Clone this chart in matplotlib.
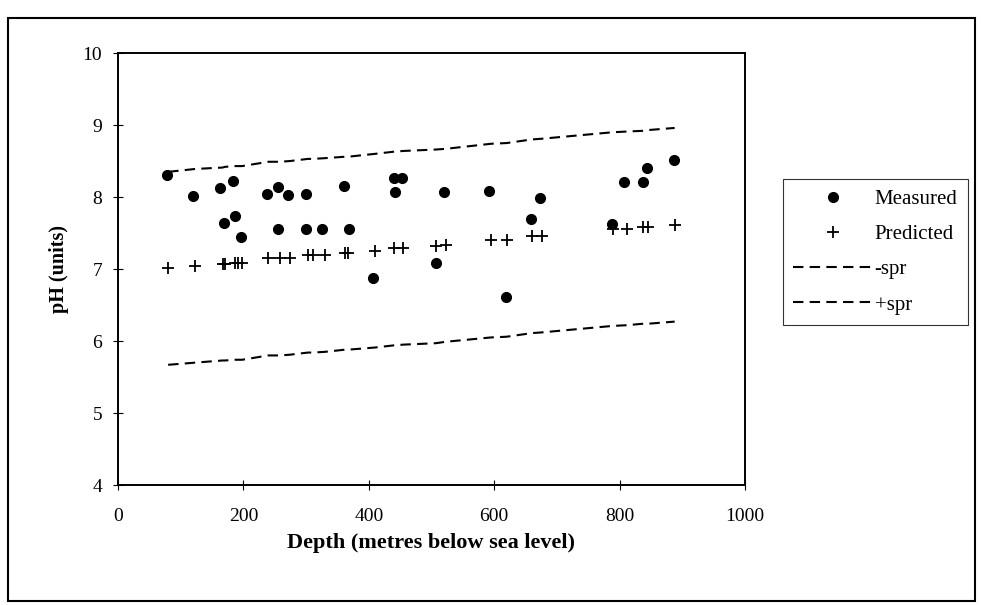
import matplotlib
matplotlib.use("Agg")
import matplotlib.pyplot as plt
from matplotlib.patches import Rectangle

measured_depth = [78, 120, 163, 169, 183, 186, 196, 238, 255, 255, 271, 300, 300,
                  325, 360, 368, 407, 440, 442, 453, 507, 520, 592, 619, 659, 673,
                  788, 807, 837, 844, 887]
measured_ph = [8.31, 8.01, 8.13, 7.64, 8.22, 7.74, 7.44, 8.04, 8.14, 7.56, 8.03, 8.04, 7.56,
               7.56, 8.15, 7.56, 6.87, 8.26, 8.07, 8.26, 7.08, 8.07, 8.08, 6.61, 7.69, 7.99,
               7.63, 8.21, 8.21, 8.40, 8.51]

# Predicted pH and spread lines
pred_depth = [80, 123, 167, 171, 187, 191, 198, 240, 258, 274, 303, 311, 330, 362, 367,
              410, 440, 455, 507, 523, 595, 620, 660, 676, 789, 812, 837, 845, 888]
pred_ph = [7.01, 7.04, 7.07, 7.07, 7.08, 7.08, 7.08, 7.15, 7.15, 7.15, 7.19, 7.19, 7.19,
           7.22, 7.22, 7.25, 7.29, 7.29, 7.32, 7.33, 7.40, 7.40, 7.46, 7.46, 7.56, 7.56,
           7.58, 7.58, 7.61]
spr_minus = [5.67, 5.70, 5.73, 5.73, 5.74, 5.74, 5.74, 5.80, 5.80, 5.81, 5.84, 5.84, 5.85,
             5.88, 5.88, 5.91, 5.94, 5.95, 5.97, 5.99, 6.05, 6.06, 6.11, 6.12, 6.21, 6.22,
             6.24, 6.24, 6.27]
spr_plus = [8.35, 8.39, 8.41, 8.42, 8.43, 8.43, 8.43, 8.49, 8.49, 8.50, 8.53, 8.53, 8.54,
            8.56, 8.56, 8.60, 8.63, 8.64, 8.66, 8.67, 8.74, 8.75, 8.80, 8.81, 8.90, 8.91,
            8.92, 8.93, 8.96]

x_ticks = [0, 200, 400, 600, 800, 1000]
y_ticks = [4, 5, 6, 7, 8, 9, 10]

plt.rcParams["font.family"] = ["Liberation Serif", "DejaVu Serif"]

fig = plt.figure(figsize=(9.81, 6.05), dpi=100)
ax = fig.add_axes([0.1203, 0.1983, 0.639, 0.714])

ax.plot(measured_depth, measured_ph, linestyle="none", marker="o", markersize=7,
        color="black", label="Measured")
ax.plot(pred_depth, pred_ph, linestyle="none", marker="+", markersize=9,
        markeredgewidth=1.3, color="black", label="Predicted")
ax.plot(pred_depth, spr_minus, linestyle=(0, (5, 3)), linewidth=1.5, color="black", label="-spr")
ax.plot(pred_depth, spr_plus, linestyle=(0, (5, 3)), linewidth=1.5, color="black", label="+spr")

ax.set_xlim(0, 1000)
ax.set_ylim(4, 10)
ax.set_xticks(x_ticks)
ax.set_yticks(y_ticks)
ax.tick_params(direction="inout", length=7, width=0.8, labelsize=14)
ax.tick_params(axis="x", pad=13)
ax.tick_params(axis="y", pad=8)
for s in ax.spines.values():
    s.set_linewidth(1.4)

ax.set_xlabel("Depth (metres below sea level)", fontsize=16, fontweight="bold", labelpad=6)
ax.set_ylabel("pH (units)", fontsize=14.5, fontweight="bold", labelpad=10)

leg = ax.legend(loc="upper left", bbox_to_anchor=(1.0606, 0.7083), fontsize=15,
                frameon=True, fancybox=False, edgecolor="black", handlelength=3.8,
                handletextpad=0.1, borderpad=0.5, labelspacing=0.75, borderaxespad=0)
leg.get_frame().set_linewidth(0.8)

# outer chart border
fig.patches.append(Rectangle((0.008, 0.007), 0.986, 0.964, transform=fig.transFigure,
                             fill=False, edgecolor="black", linewidth=1.5))

fig.savefig("out.png", dpi=100)
